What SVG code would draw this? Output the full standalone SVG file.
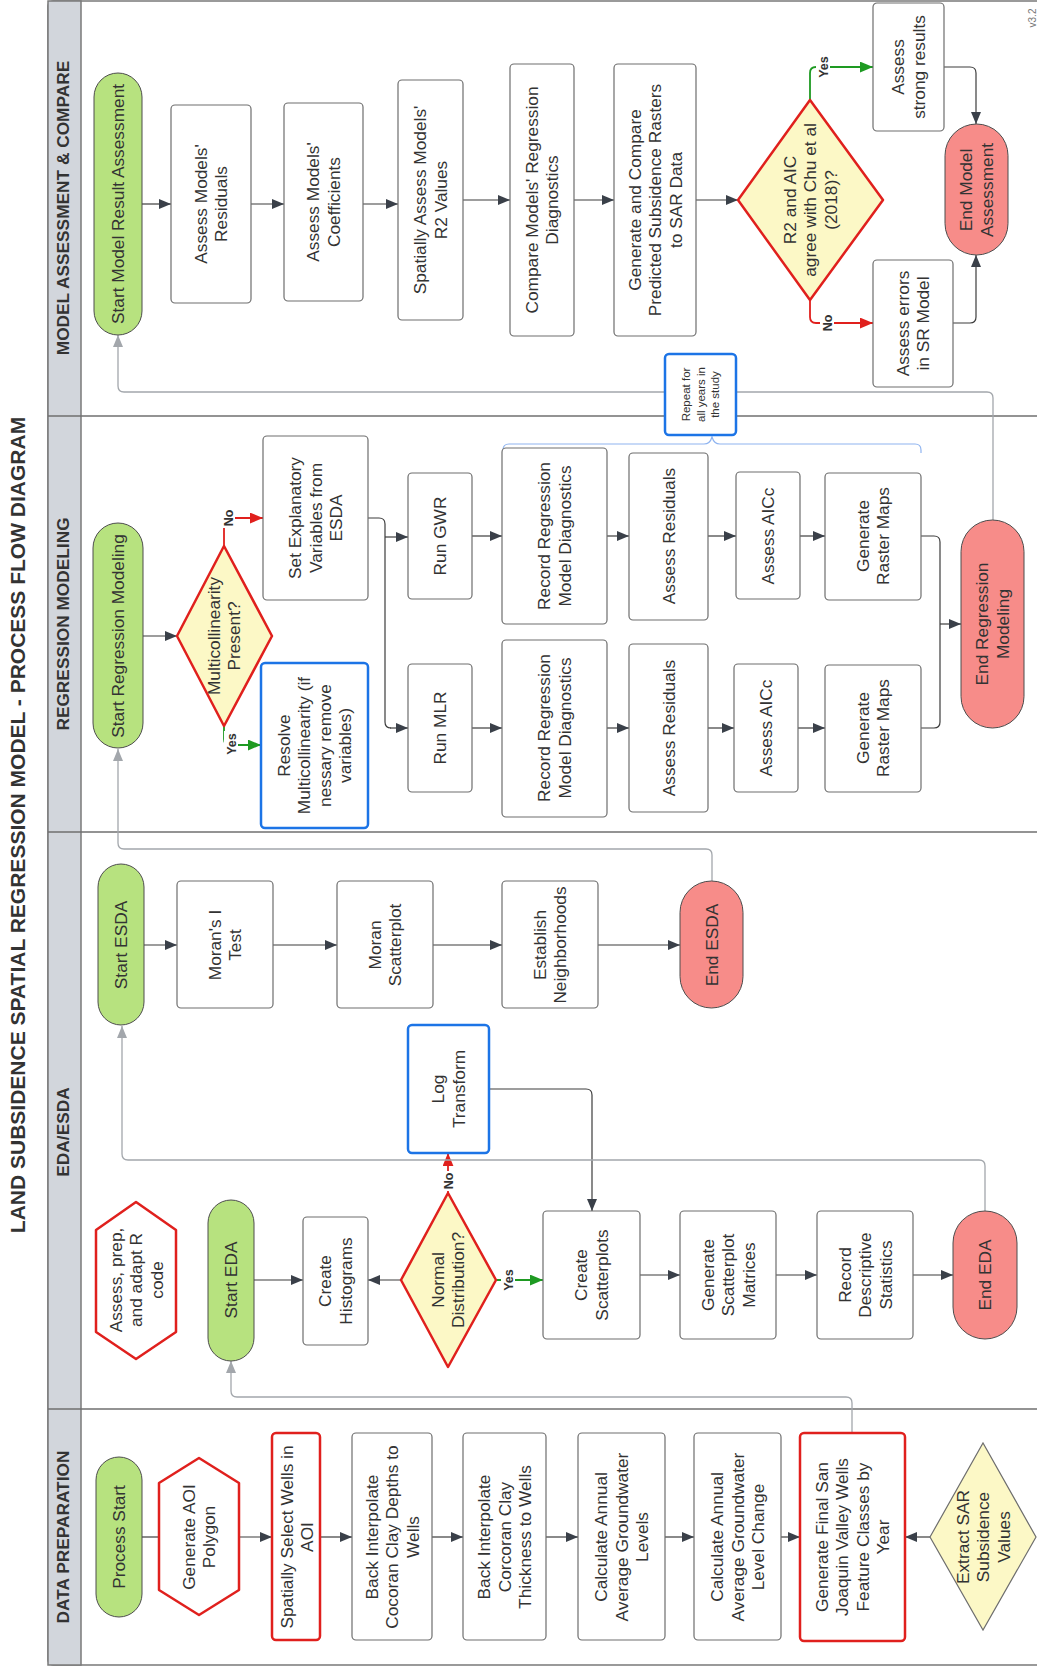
<svg xmlns="http://www.w3.org/2000/svg" width="1037" height="1669" viewBox="0 0 1037 1669">
<style>
.t{font-family:"Liberation Sans",Arial,sans-serif;font-size:17.3px;fill:#333;text-anchor:middle}
.ts{font-family:"Liberation Sans",Arial,sans-serif;font-size:11.5px;fill:#333;text-anchor:middle}
.title{font-family:"Liberation Sans",Arial,sans-serif;font-size:21px;font-weight:bold;fill:#333;text-anchor:middle}
.lane{font-family:"Liberation Sans",Arial,sans-serif;font-size:17.3px;font-weight:bold;fill:#333;text-anchor:middle}
.lbl{font-family:"Liberation Sans",Arial,sans-serif;font-size:12.5px;font-weight:bold;fill:#333;text-anchor:middle}
.ver{font-family:"Liberation Sans",Arial,sans-serif;font-size:10px;fill:#777;text-anchor:middle}
.box{fill:#fff;stroke:#6e6e6e;stroke-width:1.2}
.red{fill:#fff;stroke:#e0201d;stroke-width:2.5}
.blue{fill:#fff;stroke:#1c74e6;stroke-width:2.5}
.start{fill:#b7e27f;stroke:#4d4d4d;stroke-width:1}
.end{fill:#f78c89;stroke:#4d4d4d;stroke-width:1}
.dec{fill:#fcf8c6;stroke:#e0201d;stroke-width:2.5;stroke-linejoin:round}
.dec2{fill:#fcf8c6;stroke:#6e6e6e;stroke-width:1.2}
.c{fill:none;stroke:#3c3c3c;stroke-width:1.2;marker-end:url(#ad)}
.cp{fill:none;stroke:#3c3c3c;stroke-width:1.2}
.cg{fill:none;stroke:#a3a7ac;stroke-width:1.3;marker-end:url(#ag)}
.cy{fill:none;stroke:#1e9a22;stroke-width:1.8;marker-end:url(#ay)}
.cn{fill:none;stroke:#e0201d;stroke-width:1.8;marker-end:url(#an)}
.brace{fill:none;stroke:#8fb4f0;stroke-width:1.2}
.bg{fill:#fff}
</style>
<defs>
<marker id="ad" viewBox="0 0 12 10" refX="12" refY="5" markerWidth="12" markerHeight="10" markerUnits="userSpaceOnUse" orient="auto"><path d="M0,0 L12,5 L0,10 z" fill="#3a4049"/></marker>
<marker id="ag" viewBox="0 0 12 10" refX="12" refY="5" markerWidth="12" markerHeight="10" markerUnits="userSpaceOnUse" orient="auto"><path d="M0,0 L12,5 L0,10 z" fill="#a3a7ac"/></marker>
<marker id="ay" viewBox="0 0 12 10" refX="12" refY="5" markerWidth="13" markerHeight="11" markerUnits="userSpaceOnUse" orient="auto"><path d="M0,0 L12,5 L0,10 z" fill="#1e9a22"/></marker>
<marker id="an" viewBox="0 0 12 10" refX="12" refY="5" markerWidth="13" markerHeight="11" markerUnits="userSpaceOnUse" orient="auto"><path d="M0,0 L12,5 L0,10 z" fill="#e0201d"/></marker>
</defs>
<rect x="0" y="0" width="1037" height="1669" fill="#fff"/>

<g id="title"><text class="title" transform="translate(18 825) rotate(-90)" dy="7.4">LAND SUBSIDENCE SPATIAL REGRESSION MODEL - PROCESS FLOW DIAGRAM</text></g>

<g id="lanes">
<rect x="48" y="1" width="1000" height="1664" rx="5" fill="#fff" stroke="#7a7a7a" stroke-width="1.5"/>
<rect x="48" y="1" width="33" height="1664" fill="#d2d6dc" stroke="#7a7a7a" stroke-width="1.5"/>
<line x1="48" y1="416" x2="1048" y2="416" stroke="#6f6f6f" stroke-width="1.5"/>
<line x1="48" y1="832" x2="1048" y2="832" stroke="#6f6f6f" stroke-width="1.5"/>
<line x1="48" y1="1409" x2="1048" y2="1409" stroke="#6f6f6f" stroke-width="1.5"/>
<text class="lane" transform="translate(63 208) rotate(-90)" dy="6">MODEL ASSESSMENT &amp; COMPARE</text>
<text class="lane" transform="translate(63 624) rotate(-90)" dy="6">REGRESSION MODELING</text>
<text class="lane" transform="translate(63 1132) rotate(-90)" dy="6">EDA/ESDA</text>
<text class="lane" transform="translate(63 1537) rotate(-90)" dy="6">DATA PREPARATION</text>
</g>

<g id="connectors">
<!-- data prep -->
<path class="cp" d="M142,1537 H159"/>
<path class="c" d="M239,1537 H272"/>
<path class="c" d="M320,1537 H352"/>
<path class="c" d="M432,1537 H463"/>
<path class="c" d="M546,1537 H578"/>
<path class="c" d="M665,1537 H694"/>
<path class="c" d="M781,1537 H800"/>
<path class="c" d="M930,1537 H905"/>
<path class="cg" d="M852,1433 V1403 Q852,1397 846,1397 H237 Q231,1397 231,1391 V1361"/>
<!-- EDA -->
<path class="c" d="M254,1280 H303"/>
<path class="c" d="M401,1280 H368"/>
<path class="cy" d="M496,1280 H543"/>
<path class="cn" d="M448,1193 V1153"/>
<path class="c" d="M489,1089 H586 Q592,1089 592,1095 V1211"/>
<path class="c" d="M640,1275 H680"/>
<path class="c" d="M776,1275 H817"/>
<path class="c" d="M913,1275 H953"/>
<path class="cg" d="M985,1211 V1166 Q985,1160 979,1160 H128 Q122,1160 122,1154 V1026"/>
<!-- ESDA -->
<path class="c" d="M144,945 H177"/>
<path class="c" d="M273,945 H337"/>
<path class="c" d="M433,945 H502"/>
<path class="c" d="M598,945 H680"/>
<path class="cg" d="M712,881 V855 Q712,849 706,849 H124 Q118,849 118,843 V749"/>
<!-- regression -->
<path class="c" d="M143,636 H177"/>
<path class="cn" d="M224,546 V524 Q224,518 230,518 H263"/>
<path class="cy" d="M224,726 V739 Q224,745 230,745 H261"/>
<path class="cp" d="M368,518 H379 Q385,518 385,524 V722 Q385,728 391,728"/>
<path class="c" d="M390,728 H408"/>
<path class="c" d="M385,537 H408"/>
<path class="c" d="M472,536 H502"/>
<path class="c" d="M607,536 H629"/>
<path class="c" d="M708,536 H736"/>
<path class="c" d="M800,536 H825"/>
<path class="c" d="M472,728 H502"/>
<path class="c" d="M607,728 H629"/>
<path class="c" d="M708,728 H734"/>
<path class="c" d="M798,728 H825"/>
<path class="cp" d="M921,536 H934 Q940,536 940,542 V722 Q940,728 934,728 H921"/>
<path class="c" d="M940,624 H961"/>
<path class="cg" d="M993,520 V398 Q993,392 987,392 H124 Q118,392 118,386 V335"/>
<path class="brace" d="M503,453 V450 Q503,444 509,444 H704 Q710,444 712,437 Q714,444 720,444 H915 Q921,444 921,450 V453"/>
<!-- assessment -->
<path class="c" d="M142,204 H171"/>
<path class="c" d="M251,204 H284"/>
<path class="c" d="M363,204 H398"/>
<path class="c" d="M463,200 H510"/>
<path class="c" d="M574,200 H614"/>
<path class="c" d="M696,200 H738"/>
<path class="cy" d="M810,100 V73 Q810,67 816,67 H873"/>
<path class="cn" d="M810,300 V317 Q810,323 816,323 H873"/>
<path class="c" d="M944,67 H970 Q976,67 976,73 V124"/>
<path class="c" d="M953,323 H970 Q976,323 976,317 V255"/>
<!-- labels -->
<rect class="bg" x="501" y="1267" width="14" height="26"/>
<text class="lbl" transform="translate(508 1280) rotate(-90)" dy="4.5">Yes</text>
<rect class="bg" x="441" y="1171" width="14" height="20"/>
<text class="lbl" transform="translate(448 1181) rotate(-90)" dy="4.5">No</text>
<rect class="bg" x="221" y="509" width="14" height="19"/>
<text class="lbl" transform="translate(228 518) rotate(-90)" dy="4.5">No</text>
<rect class="bg" x="224" y="731" width="14" height="26"/>
<text class="lbl" transform="translate(231 744) rotate(-90)" dy="4.5">Yes</text>
<rect class="bg" x="816" y="54" width="14" height="26"/>
<text class="lbl" transform="translate(823 67) rotate(-90)" dy="4.5">Yes</text>
<rect class="bg" x="820" y="313" width="14" height="20"/>
<text class="lbl" transform="translate(827 323) rotate(-90)" dy="4.5">No</text>
</g>

<!-- DATA PREPARATION -->
<g id="n-process-start"><rect class="start" x="96" y="1457" width="46" height="160" rx="23"/><text class="t" transform="translate(119 1537) rotate(-90)"><tspan x="0" dy="6">Process Start</tspan></text></g>
<g id="n-aoi"><polygon class="red" points="199,1458 239,1483 239,1590 199,1615 159,1590 159,1483" stroke-linejoin="round"/><text class="t" transform="translate(199 1537) rotate(-90)"><tspan x="0" dy="-4.25">Generate AOI</tspan><tspan x="0" dy="20.5">Polygon</tspan></text></g>
<g id="n-select-wells"><rect class="red" x="272" y="1433" width="48" height="207" rx="4"/><text class="t" transform="translate(297 1537) rotate(-90)"><tspan x="0" dy="-4.25">Spatially Select Wells in</tspan><tspan x="0" dy="20.5">AOI</tspan></text></g>
<g id="n-depths"><rect class="box" x="352" y="1433" width="80" height="207" rx="4"/><text class="t" transform="translate(392 1537) rotate(-90)"><tspan x="0" dy="-14.5">Back Interpolate</tspan><tspan x="0" dy="20.5">Cocoran Clay Depths to</tspan><tspan x="0" dy="20.5">Wells</tspan></text></g>
<g id="n-thickness"><rect class="box" x="463" y="1433" width="83" height="207" rx="4"/><text class="t" transform="translate(504.5 1537) rotate(-90)"><tspan x="0" dy="-14.5">Back Interpolate</tspan><tspan x="0" dy="20.5">Corcoran Clay</tspan><tspan x="0" dy="20.5">Thickness to Wells</tspan></text></g>
<g id="n-gw-levels"><rect class="box" x="578" y="1433" width="87" height="207" rx="4"/><text class="t" transform="translate(621.5 1537) rotate(-90)"><tspan x="0" dy="-14.5">Calculate Annual</tspan><tspan x="0" dy="20.5">Average Groundwater</tspan><tspan x="0" dy="20.5">Levels</tspan></text></g>
<g id="n-gw-change"><rect class="box" x="694" y="1433" width="87" height="207" rx="4"/><text class="t" transform="translate(737.5 1537) rotate(-90)"><tspan x="0" dy="-14.5">Calculate Annual</tspan><tspan x="0" dy="20.5">Average Groundwater</tspan><tspan x="0" dy="20.5">Level Change</tspan></text></g>
<g id="n-final-wells"><rect class="red" x="800" y="1433" width="105" height="208" rx="4"/><text class="t" transform="translate(852.5 1537) rotate(-90)"><tspan x="0" dy="-24.75">Generate Final San</tspan><tspan x="0" dy="20.5">Joaquin Valley Wells</tspan><tspan x="0" dy="20.5">Feature Classes by</tspan><tspan x="0" dy="20.5">Year</tspan></text></g>
<g id="n-extract-sar"><polygon class="dec2" points="930,1537 983,1443 1036,1537 983,1630"/><text class="t" transform="translate(983 1537) rotate(-90)"><tspan x="0" dy="-14.5">Extract SAR</tspan><tspan x="0" dy="20.5">Subsidence</tspan><tspan x="0" dy="20.5">Values</tspan></text></g>

<!-- EDA -->
<g id="n-r-code"><polygon class="red" points="136,1202 176,1230 176,1332 136,1359 96,1332 96,1230" stroke-linejoin="round"/><text class="t" transform="translate(136 1280) rotate(-90)"><tspan x="0" dy="-14.5">Assess, prep,</tspan><tspan x="0" dy="20.5">and adapt R</tspan><tspan x="0" dy="20.5">code</tspan></text></g>
<g id="n-start-eda"><rect class="start" x="208" y="1200" width="46" height="161" rx="23"/><text class="t" transform="translate(231 1280) rotate(-90)"><tspan x="0" dy="6">Start EDA</tspan></text></g>
<g id="n-histograms"><rect class="box" x="303" y="1217" width="65" height="128" rx="4"/><text class="t" transform="translate(335.5 1281) rotate(-90)"><tspan x="0" dy="-4.25">Create</tspan><tspan x="0" dy="20.5">Histograms</tspan></text></g>
<g id="n-normal"><polygon class="dec" points="401,1280 448,1193 496,1280 448,1367"/><text class="t" transform="translate(448 1280) rotate(-90)"><tspan x="0" dy="-4.25">Normal</tspan><tspan x="0" dy="20.5">Distribution?</tspan></text></g>
<g id="n-log"><rect class="blue" x="408" y="1025" width="81" height="128" rx="4"/><text class="t" transform="translate(448.5 1089) rotate(-90)"><tspan x="0" dy="-4.25">Log</tspan><tspan x="0" dy="20.5">Transform</tspan></text></g>
<g id="n-scatterplots"><rect class="box" x="543" y="1211" width="97" height="128" rx="4"/><text class="t" transform="translate(591.5 1275) rotate(-90)"><tspan x="0" dy="-4.25">Create</tspan><tspan x="0" dy="20.5">Scatterplots</tspan></text></g>
<g id="n-matrices"><rect class="box" x="680" y="1211" width="96" height="128" rx="4"/><text class="t" transform="translate(728 1275) rotate(-90)"><tspan x="0" dy="-14.5">Generate</tspan><tspan x="0" dy="20.5">Scatterplot</tspan><tspan x="0" dy="20.5">Matrices</tspan></text></g>
<g id="n-descriptive"><rect class="box" x="817" y="1211" width="96" height="128" rx="4"/><text class="t" transform="translate(865 1275) rotate(-90)"><tspan x="0" dy="-14.5">Record</tspan><tspan x="0" dy="20.5">Descriptive</tspan><tspan x="0" dy="20.5">Statistics</tspan></text></g>
<g id="n-end-eda"><rect class="end" x="953" y="1211" width="64" height="128" rx="32"/><text class="t" transform="translate(985 1275) rotate(-90)"><tspan x="0" dy="6">End EDA</tspan></text></g>

<!-- ESDA -->
<g id="n-start-esda"><rect class="start" x="98" y="864" width="46" height="161" rx="23"/><text class="t" transform="translate(121 945) rotate(-90)"><tspan x="0" dy="6">Start ESDA</tspan></text></g>
<g id="n-morans-i"><rect class="box" x="177" y="881" width="96" height="127" rx="4"/><text class="t" transform="translate(225 945) rotate(-90)"><tspan x="0" dy="-4.25">Moran's I</tspan><tspan x="0" dy="20.5">Test</tspan></text></g>
<g id="n-moran-scatter"><rect class="box" x="337" y="881" width="96" height="127" rx="4"/><text class="t" transform="translate(385 945) rotate(-90)"><tspan x="0" dy="-4.25">Moran</tspan><tspan x="0" dy="20.5">Scatterplot</tspan></text></g>
<g id="n-neighborhoods"><rect class="box" x="502" y="881" width="96" height="127" rx="4"/><text class="t" transform="translate(550 945) rotate(-90)"><tspan x="0" dy="-4.25">Establish</tspan><tspan x="0" dy="20.5">Neighborhoods</tspan></text></g>
<g id="n-end-esda"><rect class="end" x="680" y="881" width="63" height="127" rx="31.5"/><text class="t" transform="translate(711.5 945) rotate(-90)"><tspan x="0" dy="6">End ESDA</tspan></text></g>

<!-- REGRESSION -->
<g id="n-start-regression"><rect class="start" x="93" y="523" width="50" height="225" rx="25"/><text class="t" transform="translate(118 636) rotate(-90)"><tspan x="0" dy="6">Start Regression Modeling</tspan></text></g>
<g id="n-multicollinearity"><polygon class="dec" points="177,636 224,546 272,636 224,726"/><text class="t" transform="translate(224 636) rotate(-90)"><tspan x="0" dy="-4.25">Multicollinearity</tspan><tspan x="0" dy="20.5">Present?</tspan></text></g>
<g id="n-resolve"><rect class="blue" x="261" y="663" width="107" height="165" rx="4"/><text class="t" transform="translate(314.5 745.5) rotate(-90)"><tspan x="0" dy="-24.75">Resolve</tspan><tspan x="0" dy="20.5">Multicollinearity (if</tspan><tspan x="0" dy="20.5">nessary remove</tspan><tspan x="0" dy="20.5">variables)</tspan></text></g>
<g id="n-explanatory"><rect class="box" x="263" y="436" width="105" height="164" rx="4"/><text class="t" transform="translate(315.5 518) rotate(-90)"><tspan x="0" dy="-14.5">Set Explanatory</tspan><tspan x="0" dy="20.5">Variables from</tspan><tspan x="0" dy="20.5">ESDA</tspan></text></g>
<g id="n-run-gwr"><rect class="box" x="408" y="473" width="64" height="126" rx="4"/><text class="t" transform="translate(440 536) rotate(-90)"><tspan x="0" dy="6">Run GWR</tspan></text></g>
<g id="n-record-gwr"><rect class="box" x="502" y="448" width="105" height="176" rx="4"/><text class="t" transform="translate(554.5 536) rotate(-90)"><tspan x="0" dy="-4.25">Record Regression</tspan><tspan x="0" dy="20.5">Model Diagnostics</tspan></text></g>
<g id="n-residuals-gwr"><rect class="box" x="629" y="453" width="79" height="167" rx="4"/><text class="t" transform="translate(668.5 536) rotate(-90)"><tspan x="0" dy="6">Assess Residuals</tspan></text></g>
<g id="n-aicc-gwr"><rect class="box" x="736" y="472" width="64" height="127" rx="4"/><text class="t" transform="translate(768 536) rotate(-90)"><tspan x="0" dy="6">Assess AICc</tspan></text></g>
<g id="n-raster-gwr"><rect class="box" x="825" y="473" width="96" height="127" rx="4"/><text class="t" transform="translate(873 536) rotate(-90)"><tspan x="0" dy="-4.25">Generate</tspan><tspan x="0" dy="20.5">Raster Maps</tspan></text></g>
<g id="n-run-mlr"><rect class="box" x="408" y="664" width="64" height="128" rx="4"/><text class="t" transform="translate(440 728) rotate(-90)"><tspan x="0" dy="6">Run MLR</tspan></text></g>
<g id="n-record-mlr"><rect class="box" x="502" y="640" width="105" height="177" rx="4"/><text class="t" transform="translate(554.5 728) rotate(-90)"><tspan x="0" dy="-4.25">Record Regression</tspan><tspan x="0" dy="20.5">Model Diagnostics</tspan></text></g>
<g id="n-residuals-mlr"><rect class="box" x="629" y="644" width="79" height="168" rx="4"/><text class="t" transform="translate(668.5 728) rotate(-90)"><tspan x="0" dy="6">Assess Residuals</tspan></text></g>
<g id="n-aicc-mlr"><rect class="box" x="734" y="664" width="64" height="128" rx="4"/><text class="t" transform="translate(766 728) rotate(-90)"><tspan x="0" dy="6">Assess AICc</tspan></text></g>
<g id="n-raster-mlr"><rect class="box" x="825" y="665" width="96" height="127" rx="4"/><text class="t" transform="translate(873 728) rotate(-90)"><tspan x="0" dy="-4.25">Generate</tspan><tspan x="0" dy="20.5">Raster Maps</tspan></text></g>
<g id="n-end-regression"><rect class="end" x="961" y="520" width="63" height="208" rx="31.5"/><text class="t" transform="translate(992.5 624) rotate(-90)"><tspan x="0" dy="-4.25">End Regression</tspan><tspan x="0" dy="20.5">Modeling</tspan></text></g>
<g id="n-repeat"><rect class="blue" x="665" y="354" width="71" height="81" rx="4"/><text class="ts" transform="translate(700.5 394.5) rotate(-90)"><tspan x="0" dy="-10.5">Repeat for</tspan><tspan x="0" dy="14.5">all years in</tspan><tspan x="0" dy="14.5">the study</tspan></text></g>

<!-- ASSESSMENT -->
<g id="n-start-assessment"><rect class="start" x="94" y="73" width="48" height="262" rx="24"/><text class="t" transform="translate(118 204) rotate(-90)"><tspan x="0" dy="6">Start Model Result Assessment</tspan></text></g>
<g id="n-models-residuals"><rect class="box" x="171" y="105" width="80" height="198" rx="4"/><text class="t" transform="translate(211 204) rotate(-90)"><tspan x="0" dy="-4.25">Assess Models'</tspan><tspan x="0" dy="20.5">Residuals</tspan></text></g>
<g id="n-models-coefficients"><rect class="box" x="284" y="103" width="79" height="198" rx="4"/><text class="t" transform="translate(323.5 202) rotate(-90)"><tspan x="0" dy="-4.25">Assess Models'</tspan><tspan x="0" dy="20.5">Coefficients</tspan></text></g>
<g id="n-r2-values"><rect class="box" x="398" y="80" width="65" height="240" rx="4"/><text class="t" transform="translate(430.5 200) rotate(-90)"><tspan x="0" dy="-4.25">Spatially Assess Models'</tspan><tspan x="0" dy="20.5">R2 Values</tspan></text></g>
<g id="n-compare-diagnostics"><rect class="box" x="510" y="64" width="64" height="272" rx="4"/><text class="t" transform="translate(542 200) rotate(-90)"><tspan x="0" dy="-4.25">Compare Models' Regression</tspan><tspan x="0" dy="20.5">Diagnostics</tspan></text></g>
<g id="n-compare-rasters"><rect class="box" x="614" y="64" width="82" height="272" rx="4"/><text class="t" transform="translate(655 200) rotate(-90)"><tspan x="0" dy="-14.5">Generate and Compare</tspan><tspan x="0" dy="20.5">Predicted Subsidence Rasters</tspan><tspan x="0" dy="20.5">to SAR Data</tspan></text></g>
<g id="n-agree"><polygon class="dec" points="738,200 810,100 883,200 810,300"/><text class="t" transform="translate(810 200) rotate(-90)"><tspan x="0" dy="-14.5">R2 and AIC</tspan><tspan x="0" dy="20.5">agree with Chu et al</tspan><tspan x="0" dy="20.5">(2018)?</tspan></text></g>
<g id="n-strong"><rect class="box" x="873" y="3" width="71" height="128" rx="4"/><text class="t" transform="translate(908.5 67) rotate(-90)"><tspan x="0" dy="-4.25">Assess</tspan><tspan x="0" dy="20.5">strong results</tspan></text></g>
<g id="n-errors"><rect class="box" x="873" y="260" width="80" height="127" rx="4"/><text class="t" transform="translate(913 323.5) rotate(-90)"><tspan x="0" dy="-4.25">Assess errors</tspan><tspan x="0" dy="20.5">in SR Model</tspan></text></g>
<g id="n-end-assessment"><rect class="end" x="945" y="124" width="63" height="131" rx="31.5"/><text class="t" transform="translate(976.5 190) rotate(-90)"><tspan x="0" dy="-4.25">End Model</tspan><tspan x="0" dy="20.5">Assessment</tspan></text></g>

<g id="version"><text class="ver" transform="translate(1032 18) rotate(-90)" dy="3.5">v3.2</text></g>
</svg>
